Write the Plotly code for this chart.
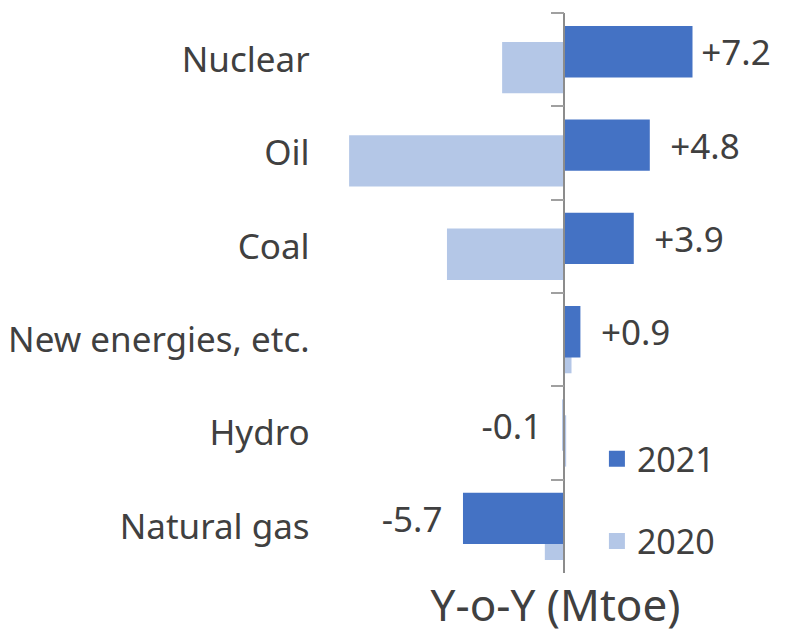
import plotly.graph_objects as go

categories = ["Nuclear", "Oil", "Coal", "New energies, etc.", "Hydro", "Natural gas"]
yoy_2021 = [7.2, 4.8, 3.9, 0.9, -0.1, -5.7]
yoy_2020 = [-3.5, -12.1, -6.6, 0.4, 0.1, -1.1]

# en space keeps the label off the bar end as in the original; the nuclear
# label sits close to its bar (right edge of the chart), so only a thin space
labels_2021 = []
for cat, v in zip(categories, yoy_2021):
    gap = "\u2009" if cat == "Nuclear" else "\u2002"
    s = f"{v:+.1f}"
    labels_2021.append(gap + s if v >= 0 else s + gap)

DARK = "#4472C4"
LIGHT = "#B4C7E7"
TEXT = "#404040"
FONT = "Noto Sans, Open Sans, sans-serif"

fig = go.Figure()

# 2020 drawn first so the 2021 bar sits on top where they overlap
fig.add_trace(go.Bar(
    y=categories, x=yoy_2020, orientation="h", name="2020",
    marker=dict(color=LIGHT, line_width=0), width=0.55, offset=-0.19,
    showlegend=False,
))
fig.add_trace(go.Bar(
    y=categories, x=yoy_2021, orientation="h", name="2021",
    marker=dict(color=DARK, line_width=0), width=0.55, offset=-0.36,
    text=labels_2021, textposition="outside", textangle=0,
    textfont=dict(size=35, color=TEXT), constraintext="none",
    cliponaxis=False, showlegend=False,
))

# legend-only entries (bigger square swatches than the bar defaults)
for name, color, rank in (("2021", DARK, 1), ("2020", LIGHT, 2)):
    fig.add_trace(go.Scatter(
        x=[None], y=[None], mode="markers", name=name, legendgroup=name,
        legendrank=rank, marker=dict(symbol="square", size=16, color=color),
    ))

# page body adds an 8px offset, so the figure is 8px smaller than the window
fig.update_layout(
    width=780, height=627,
    margin=dict(l=334, r=19, t=5, b=62),
    barmode="overlay",
    plot_bgcolor="white", paper_bgcolor="white",
    font=dict(family=FONT, color=TEXT, size=34),
    legend=dict(
        x=0.597, y=0.255, xanchor="left", yanchor="top",
        font=dict(size=34, color=TEXT), tracegroupgap=35,
        traceorder="grouped", bgcolor="rgba(0,0,0,0)",
    ),
)

fig.update_xaxes(
    range=[-12.5, 11.5], showgrid=False, zeroline=False,
    showticklabels=False, ticks="", showline=False,
    title=dict(text="Y-o-Y (Mtoe)", font=dict(size=44, color=TEXT), standoff=17),
    automargin=False,
)
fig.update_yaxes(
    type="category", autorange="reversed",
    anchor="free", position=12.5 / 24,
    showline=True, linecolor="#8c8c8c", linewidth=1.5,
    ticks="outside", tickson="boundaries", ticklen=13, tickcolor="#a0a0a0",
    tickwidth=1.5, ticklabelstandoff=247,
    tickfont=dict(size=35, color=TEXT), showgrid=False, automargin=False,
)

fig.write_html("out.html")
